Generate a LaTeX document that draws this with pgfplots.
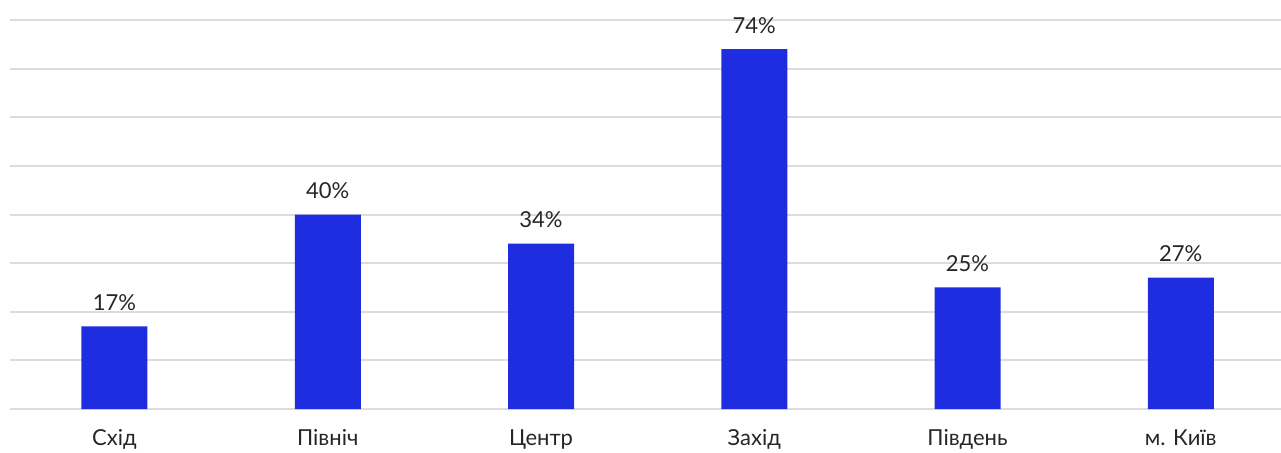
\documentclass[border=0pt]{standalone}
\usepackage{fontspec}
\setmainfont{Lato}
\usepackage{pgfplots}
\pgfplotsset{compat=1.18}
\definecolor{barblue}{HTML}{1F2DE0}
\definecolor{gridgray}{HTML}{DCDCDC}
\begin{document}
\begin{tikzpicture}
\useasboundingbox (-5pt,-21.5pt) rectangle (635.5pt,204.5pt);
\begin{axis}[
  at={(0,0)}, anchor=south west,
  scale only axis,
  width=635.5pt, height=194.5pt,
  ybar, bar width=33pt,
  xmin=-0.49, xmax=5.47,
  ymin=0, ymax=80,
  axis line style={draw=none},
  tick style={draw=none},
  clip=false,
  ytick={0,10,...,80},
  yticklabels={},
  ymajorgrids,
  grid style={gridgray, line width=1pt},
  xtick={0,1,2,3,4,5},
  xticklabels={Схід,Північ,Центр,Захід,Південь,м. Київ},
  major tick length=0pt,
  /pgf/number format/assume math mode=true,
  nodes near coords={\pgfmathprintnumber{\pgfplotspointmeta}\%},
  every node near coord/.append style={anchor=base, yshift=8pt, font=\fontsize{11}{13}\selectfont, text=black!85},
  xticklabel style={anchor=base, yshift=-18pt, font=\fontsize{11}{13}\selectfont, text=black!85},
]
\addplot[fill=barblue, draw=none] coordinates {(0,17) (1,40) (2,34) (3,74) (4,25) (5,27)};
\end{axis}
\end{tikzpicture}
\end{document}
